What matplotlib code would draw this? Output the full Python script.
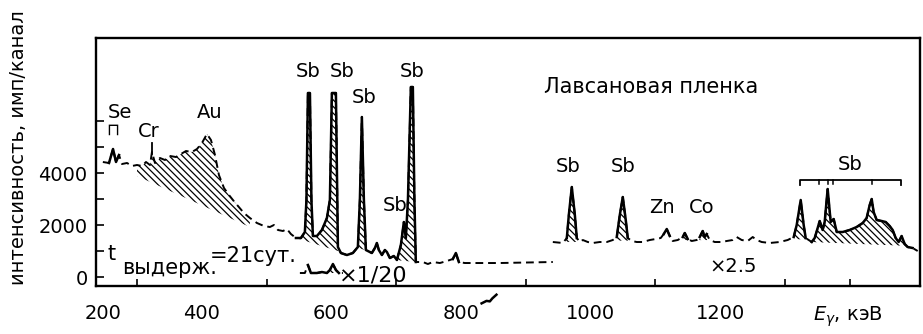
import numpy as np
import matplotlib.pyplot as plt

plt.rcParams['font.family'] = ['DejaVu Sans']
plt.rcParams['hatch.linewidth'] = 0.9

# main spectrum, left part (keV, counts per channel)
e_left = [247, 256.5, 262.7, 267.3, 271.9, 276.5, 284.3, 292, 299.7, 307.4, 313.6,
          319.8, 322.8, 327.5, 335.2, 342.9, 350.6, 359.9, 367.6, 375.3, 384.6,
          392.3, 400, 407.7, 413.9, 420.1, 426.2, 434, 441.7, 447.8, 455.6, 464.8,
          474.1, 484.9, 495.7, 504.9, 511.1, 517.3, 525, 531.2, 537.3, 545.1,
          552.8, 558.9, 561.3, 563.6, 566.7, 569, 571.3, 577.5, 585.2, 592.9,
          597.5, 600.6, 606.8, 609.9, 614.5, 623.8, 633, 640.7, 643.8, 646.9,
          650, 653.1, 662.3, 667, 670, 673.1, 677.8, 682.4, 685.5, 690.1, 696.3,
          701, 707.1, 711.7, 714.8, 718, 722.5, 725.6, 728, 730.2, 741, 748.8,
          756.5, 767.3, 778.1, 787.3, 792, 796.6, 805.8, 859.9, 941.7]
c_left = [4423, 4385, 4923, 4423, 4692, 4346, 4385, 4269, 4308, 4269, 4423,
          4308, 4808, 4385, 4577, 4500, 4654, 4615, 4731, 4846, 4808,
          4923, 5154, 5500, 5269, 4692, 3923, 3423, 3154, 2962, 2731, 2461,
          2269, 2077, 1962, 1923, 2000, 1808, 1769, 1846, 1654, 1500,
          1500, 1731, 2962, 7077, 7077, 2962, 1577, 1577, 1808, 2269,
          2962, 7077, 7077, 1154, 923, 846, 923, 1154, 2962, 6154,
          2962, 1038, 923, 1115, 1308, 1038, 846, 1038, 962, 731, 808,
          654, 1231, 2115, 1500, 2962, 7308, 7308, 2962, 577, 577, 500,
          577, 538, 615, 692, 923, 577, 538, 538, 577]

# same region x 1/20
e_low = [551.2, 558.9, 563.6, 568.2, 577.5, 585.2, 592.9, 597.5, 602.2, 606.8, 611.4, 617.6]
c_low = [154, 154, 462, 154, 154, 192, 154, 269, 500, 269, 154, 154]

# right part, x 2.5
e_right = [941.7, 957.1, 963.3, 966.4, 971, 975.7, 978.7, 983.3, 988, 995.7, 1003.4,
           1014.2, 1025, 1034.3, 1040.4, 1045.1, 1049.7, 1054.3, 1057.4, 1063.6,
           1071.3, 1080.6, 1091.4, 1100.6, 1108.3, 1113, 1117.6, 1122.2, 1126.9,
           1134.6, 1142.3, 1145.4, 1150, 1156.2, 1163.9, 1168.5, 1173.1, 1176.2,
           1179.3, 1183.9, 1191.7, 1202.5, 1210.2, 1219.4, 1225.6, 1233.3, 1242.6,
           1250.3, 1256.5, 1264.2, 1276.5, 1291.9, 1304.3, 1313.6, 1318.2, 1324.4,
           1329, 1332.1, 1341.4, 1346, 1350.6, 1353.7, 1358.3, 1361.4, 1366,
           1370.7, 1375.3, 1380, 1389.2, 1400, 1410.8, 1420.1, 1426.2, 1430.9,
           1434, 1437, 1441.7, 1449.4, 1455.6, 1461.7, 1466.4, 1471, 1475.6,
           1480.2, 1484.9, 1489.5, 1497.2, 1505]
c_right = [1346, 1308, 1500, 2385, 3462, 2385, 1500, 1346, 1423, 1346, 1308,
           1346, 1346, 1423, 1538, 2385, 3077, 2192, 1500, 1385,
           1346, 1346, 1423, 1462, 1500, 1654, 1846, 1577, 1385,
           1423, 1538, 1692, 1462, 1385, 1423, 1538, 1769, 1538,
           1654, 1423, 1346, 1346, 1385, 1423, 1538, 1423, 1385,
           1538, 1423, 1346, 1308, 1346, 1423, 1538, 2000, 2962,
           2000, 1500, 1346, 1500, 1885, 2154, 1808, 2115, 3385,
           2115, 2231, 1731, 1731, 1808, 1923, 2077, 2269, 2769,
           3000, 2500, 2192, 2154, 2115, 1962, 1808, 1500, 1346,
           1577, 1269, 1154, 1115, 1000]

# hatched peak areas: (E from, E to, background at start, background at end)
hatch_left = [(299.7, 474, 3885, 1923), (545, 610, 1500, 1000),
              (638, 656, 1150, 1000), (699, 730, 654, 577)]
hatch_low = [(598, 607, 154, 154)]
hatch_right = [(962, 980, 1350, 1350), (1038, 1058, 1400, 1400),
               (1142, 1150, 1420, 1420), (1168, 1180, 1420, 1420),
               (1314, 1333, 1450, 1450), (1341, 1486, 1346, 1200)]

# parts of the curves drawn solid
solid_left = [(255, 275), (545, 735), (787, 797)]
solid_low = [(560, 612)]
solid_right = [(960, 981), (1036, 1058), (1110, 1125), (1140, 1152), (1166, 1182),
               (1312, 1334), (1341, 1500)]

sb_group = [1323, 1480]
sb_group_ticks = [1352, 1366, 1374, 1434]

fig = plt.figure(figsize=(9.23, 3.34), dpi=100)
ax = fig.add_axes([0.104, 0.1437, 0.8927, 0.7425])


def draw(e, c, solid, hatches):
    e = np.array(e)
    c = np.array(c)
    ax.plot(e, c, color='k', lw=1.4, ls=(0, (4, 2.5)))
    for a, b in solid:
        m = (e >= a) & (e <= b)
        ax.plot(e[m], c[m], color='k', lw=1.8)
    for a, b, c0, c1 in hatches:
        g = np.linspace(a, b, 300)
        top = np.interp(g, e, c)
        bg = np.interp(g, [a, b], [c0, c1])
        ax.fill_between(g, bg, np.maximum(top, bg), facecolor='none',
                        edgecolor='k', hatch='\\\\\\\\\\', lw=0)


draw(e_left, c_left, solid_left, hatch_left)
draw(e_low, c_low, solid_low, hatch_low)
draw(e_right, c_right, solid_right, hatch_right)

# Sb bracket on the right
ax.plot([sb_group[0], sb_group[0], sb_group[1], sb_group[1]], [3538, 3731, 3731, 3538],
        color='k', lw=1.3)
for t in sb_group_ticks:
    ax.plot([t, t], [3731, 3560], color='k', lw=1.1)
# Cr marker
ax.plot([323, 323], [4750, 5150], color='k', lw=1.3)

fs = 14
kw = dict(ha='center', va='center', fontsize=fs)
ax.text(273.5, 6346, 'Se', **kw)
ax.text(262.7, 5654, '⊓', ha='center', va='center', fontsize=12)
ax.text(318.2, 5615, 'Cr', **kw)
ax.text(412.3, 6346, 'Au', **kw)
for xe, yc in [(563.6, 7923), (616, 7923), (650, 6885), (724, 7923), (697.8, 2769),
               (964.8, 4231), (1049.7, 4231), (1400, 4308)]:
    ax.text(xe, yc, 'Sb', **kw)
ax.text(1109.9, 2692, 'Zn', **kw)
ax.text(1171.6, 2692, 'Co', **kw)
ax.text(1092.9, 7308, 'Лавсановая пленка', ha='center', va='center', fontsize=15)
ax.text(1219.4, 385, '×2.5', **kw)
ax.text(663.9, 77, '×1/20', ha='center', va='center', fontsize=16)
ax.text(261.1, 885, 't', ha='center', va='center', fontsize=15)
ax.text(276.5, 346, 'выдерж.', ha='left', va='center', fontsize=15)
ax.text(412.3, 808, '=21сут.', ha='left', va='center', fontsize=15)

ax.text(0.913, -0.125, r'$E_\gamma$, кэВ', transform=ax.transAxes,
        ha='center', va='center', fontsize=fs)
# axis break mark after 800
ax.plot([0.468, 0.474, 0.478, 0.481, 0.486], [-0.07, -0.06, -0.062, -0.05, -0.035],
        transform=ax.transAxes, color='k', lw=1.8, clip_on=False)

ax.set_xlim(236.4, 1508.5)
ax.set_ylim(-346, 9192)

ax.set_xticks([247, 400, 600, 800, 1000, 1200])
ax.set_xticklabels(['200', '400', '600', '800', '1000', '1200'])
ax.set_xticks(range(300, 1500, 100), minor=True)
ax.tick_params(axis='x', which='major', length=0, pad=13, labelsize=fs)
ax.tick_params(axis='x', which='minor', direction='in', length=5, width=1.2)

ax.set_yticks([0, 2000, 4000])
ax.set_yticklabels(['0', '2000', '4000'])
ax.set_yticks([1000, 3000, 5000, 6000], minor=True)
ax.tick_params(axis='y', which='both', direction='in', length=6, width=1.2,
               labelsize=fs, pad=6)

ax.set_ylabel('интенсивность, имп/канал', fontsize=fs)
ax.yaxis.set_label_coords(-0.0825, 0.556)

for s in ax.spines.values():
    s.set_linewidth(1.7)

plt.savefig('out.png', dpi=100)
plt.close()
